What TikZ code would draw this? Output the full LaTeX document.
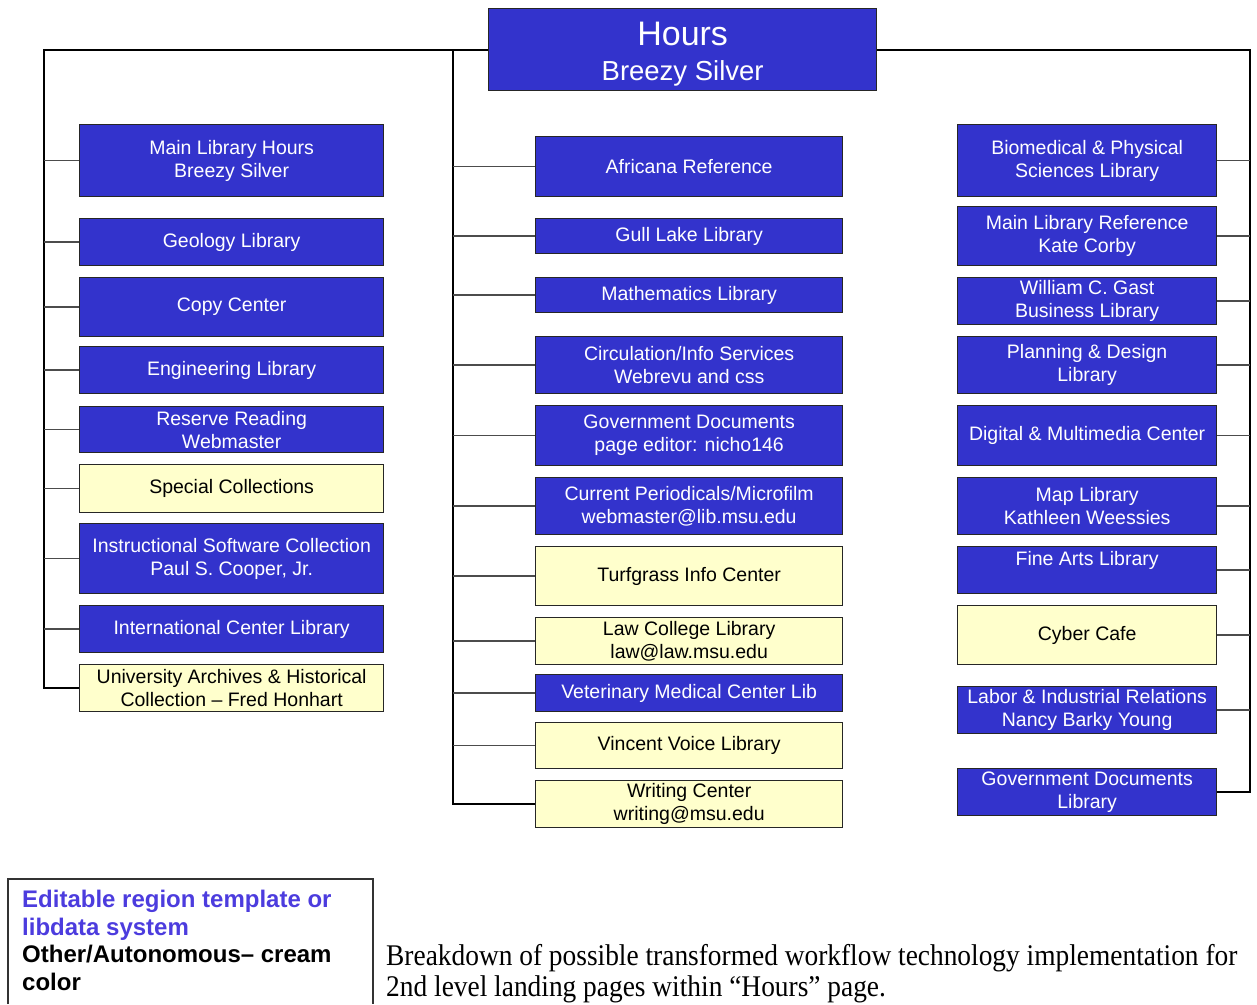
\documentclass[tikz,border=0pt]{standalone}
\usepackage{fontspec}
\setmainfont{Liberation Sans}
\newfontfamily\capfont[FakeStretch=0.913]{Liberation Serif}
\definecolor{hblue}{RGB}{51,51,204}
\definecolor{cream}{RGB}{255,255,204}
\definecolor{legblue}{RGB}{76,60,222}
\tikzset{
  bx/.style={draw=black!85, line width=1.3pt, fill=hblue, text=white, inner sep=0pt,
    align=center, anchor=north west, font=\fontsize{19.5pt}{23pt}\selectfont},
  cbx/.style={bx, fill=cream, text=black},
  colL/.style={minimum width=304pt},
  colM/.style={minimum width=307pt},
  colR/.style={minimum width=259pt},
  trunk/.style={draw=black, line width=1.8pt},
  stub/.style={draw=black!70, line width=1.6pt},
  legendline/.style={draw=black!80, line width=1.2pt}
}
\begin{document}
\begin{tikzpicture}[x=1pt,y=-1pt]
\useasboundingbox (0,0) rectangle (1257,1004);
% top node
\node[bx, minimum width=388pt, minimum height=82pt, font=\fontsize{27.5pt}{35pt}\selectfont] (hours) at (488,8)
  {\rule{0pt}{33pt}{\fontsize{34pt}{35pt}\selectfont Hours}\\Breezy Silver};
% left column
\node[bx, colL, minimum height=72pt] (mlh) at (79,124) {Main Library Hours\\Breezy Silver};
\node[bx, colL, minimum height=47pt] (geo) at (79,218) {Geology Library};
\node[bx, colL, minimum height=59pt] (copy) at (79,277) {Copy Center};
\node[bx, colL, minimum height=47pt] (eng) at (79,346) {Engineering Library};
\node[bx, colL, minimum height=46pt] (res) at (79,406) {Reserve Reading\\Webmaster};
\node[cbx, colL, minimum height=48pt] (spc) at (79,464) {Special Collections};
\node[bx, colL, minimum height=70pt] (isc) at (79,523) {Instructional Software Collection\\Paul S. Cooper, Jr.};
\node[bx, colL, minimum height=47pt] (intl) at (79,605) {International Center Library};
\node[cbx, colL, minimum height=47pt] (uarch) at (79,664) {University Archives \& Historical\\Collection – Fred Honhart};
% middle column
\node[bx, colM, minimum height=60pt] (afr) at (535,136) {Africana Reference};
\node[bx, colM, minimum height=35pt] (gull) at (535,218) {Gull Lake Library};
\node[bx, colM, minimum height=35pt] (math) at (535,277) {Mathematics Library};
\node[bx, colM, minimum height=57pt] (circ) at (535,336) {Circulation/Info Services\\Webrevu and css};
\node[bx, colM, minimum height=60pt] (gov) at (535,405) {Government Documents\\page editor: nicho146};
\node[bx, colM, minimum height=57pt] (cur) at (535,477) {Current Periodicals/Microfilm\\webmaster@lib.msu.edu};
\node[cbx, colM, minimum height=59pt] (turf) at (535,546) {Turfgrass Info Center};
\node[cbx, colM, minimum height=47pt] (law) at (535,617) {Law College Library\\law@law.msu.edu};
\node[bx, colM, minimum height=37pt] (vet) at (535,674) {Veterinary Medical Center Lib};
\node[cbx, colM, minimum height=46pt] (vin) at (535,722) {Vincent Voice Library};
\node[cbx, colM, minimum height=47pt] (wri) at (535,780) {Writing Center\\writing@msu.edu};
% right column
\node[bx, colR, minimum height=72pt] (bio) at (957,124) {Biomedical \& Physical\\Sciences Library};
\node[bx, colR, minimum height=59pt] (mlr) at (957,206) {Main Library Reference\\Kate Corby};
\node[bx, colR, minimum height=47pt] (gast) at (957,277) {William C. Gast\\Business Library};
\node[bx, colR, minimum height=57pt] (plan) at (957,336) {Planning \& Design\\Library};
\node[bx, colR, minimum height=60pt] (dig) at (957,405) {Digital \& Multimedia Center};
\node[bx, colR, minimum height=57pt] (map) at (957,477) {Map Library\\Kathleen Weessies};
\node[bx, colR, minimum height=47pt] (fine) at (957,546) {Fine Arts Library\\\mbox{}};
\node[cbx, colR, minimum height=59pt] (cyber) at (957,605) {Cyber Cafe};
\node[bx, colR, minimum height=47pt] (labor) at (957,686) {Labor \& Industrial Relations\\Nancy Barky Young};
\node[bx, colR, minimum height=47pt] (govlib) at (957,768) {Government Documents\\Library};
% trunk coordinates
\coordinate (lt) at (44,48);
\coordinate (mt) at (453,48);
\coordinate (rt) at (1250,48);
% trunks
\draw[trunk] (hours.west) -| (lt |- uarch.west) -- (uarch.west);
\draw[trunk] (hours.west -| mt) -- (mt |- wri.west) -- (wri.west);
\draw[trunk] (hours.east) -| (rt |- govlib.east) -- (govlib.east);
% stubs
\foreach \n in {mlh,geo,copy,eng,res,spc,isc,intl}
  \draw[stub] (lt |- \n.west) -- (\n.west);
\foreach \n in {afr,gull,math,circ,gov,cur,turf,law,vet,vin}
  \draw[stub] (mt |- \n.west) -- (\n.west);
\foreach \n in {bio,mlr,gast,plan,dig,map,fine,cyber,labor}
  \draw[stub] (rt |- \n.east) -- (\n.east);
% legend
\draw[legendline] (8,1004) |- (373,879) -- (373,1004);
\node[anchor=north west, align=left, inner sep=0pt, font=\bfseries\fontsize{24pt}{27.5pt}\selectfont] (legend) at (22,890)
  {\textcolor{legblue}{Editable region template or}\\\textcolor{legblue}{libdata system}\\Other/Autonomous– cream\\color};
\node[anchor=north west, align=left, inner sep=0pt, font=\capfont\fontsize{30pt}{31pt}\selectfont] (caption) at (386,944)
  {Breakdown of possible transformed workflow technology implementation for\\2nd level landing pages within “Hours” page.};
\end{tikzpicture}
\end{document}
